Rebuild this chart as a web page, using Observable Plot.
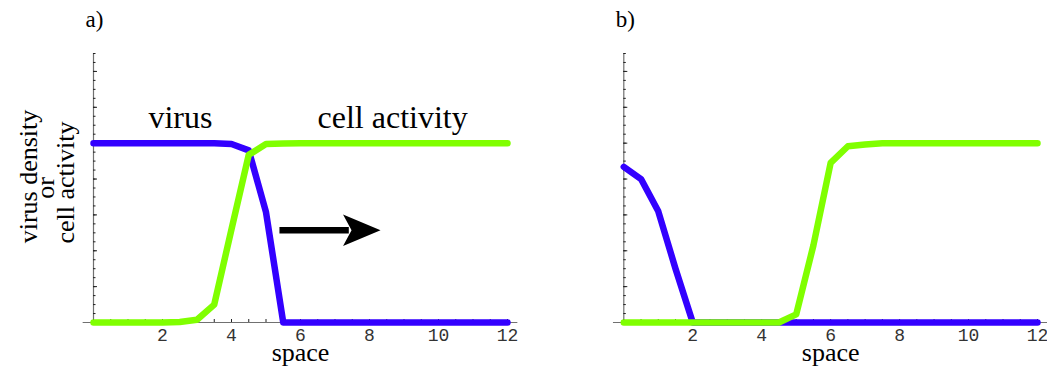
<!DOCTYPE html>
<html>
<head>
<meta charset="utf-8">
<script src="https://cdn.jsdelivr.net/npm/d3@7"></script>
<script src="https://cdn.jsdelivr.net/npm/@observablehq/plot@0.6"></script>
<style>
  html, body { margin: 0; padding: 0; background: #fff; }
  #wrap { position: relative; width: 1047px; height: 369px; overflow: hidden; }
  #wrap svg { position: absolute; top: 0; }
</style>
</head>
<body>
<div id="wrap"></div>
<script>
// ---- data ----
const space = [0,0.5,1,1.5,2,2.5,3,3.5,4,4.5,5,5.5,6,6.5,7,7.5,8,8.5,9,9.5,10,10.5,11,11.5,12];
const virusA = [1,1,1,1,1,1,1,1,0.995,0.96,0.615,0,0,0,0,0,0,0,0,0,0,0,0,0,0];
const cellA  = [0,0,0,0,0,0.003,0.015,0.1,0.52,0.935,0.995,0.998,1,1,1,1,1,1,1,1,1,1,1,1,1];
const virusB = [0.868,0.8,0.62,0.3,0,0,0,0,0,0,0,0,0,0,0,0,0,0,0,0,0,0,0,0,0];
const cellB  = [0,0,0,0,0,0,0,0,0,0,0.045,0.43,0.89,0.983,0.993,1,1,1,1,1,1,1,1,1,1];
const xTickLabels = [2,4,6,8,10,12];
const xMinorTicks = d3.range(0, 12.01, 0.5);
const yMinorTicks = d3.range(0.05, 1.501, 0.05);
const yMajorTicks = d3.range(0.2, 1.501, 0.2);
const panelLabels = ["a)", "b)"];
const xTitle = "space";
const yTitleLines = [
  {text: "virus density", y: 0.814, dx: -57},
  {text: "or", y: 0.75, dx: -40},
  {text: "cell activity", y: 0.78, dx: -20}
];
const curveLabels = [
  {text: "virus", x: 2.52, y: 1.082},
  {text: "cell activity", x: 8.67, y: 1.082}
];
const arrowShaft = [{x: 5.39, y: 0.514}, {x: 7.4, y: 0.514}];
const arrowTip = [{x: 8.32, y: 0.514}];

// ---- styles ----
const BLUE = "#3300ff", GREEN = "#80ff00", AXIS = "#707070";
const SERIF = "Liberation Serif, Times New Roman, serif";
const MONO = "Liberation Mono, Courier New, monospace";
const H = 369, MT = 53, MB = 47;
const pxPerY = (H - MT - MB) / 1.5;
const pxPerX = 414 / 12;

const arrowHead = {
  draw(ctx) {
    ctx.moveTo(0, 0);
    ctx.lineTo(-37.5, -15.7);
    ctx.lineTo(-29, 0);
    ctx.lineTo(-37.5, 15.7);
    ctx.closePath();
  }
};

function panel({label, virus, cell, width, marginLeft, marginRight, extra}) {
  const rows = (vals) => space.map((x, i) => ({x, y: vals[i]}));
  return Plot.plot({
    width, height: H, marginLeft, marginRight, marginTop: MT, marginBottom: MB,
    x: {domain: [0, 12], axis: null},
    y: {domain: [0, 1.5], axis: null},
    marks: [
      // axes
      Plot.ruleY([0], {x1: -0.3, x2: 12.3, stroke: AXIS, strokeWidth: 1.2}),
      Plot.ruleX([0], {y1: 0, y2: 1.5, stroke: AXIS, strokeWidth: 1.2}),
      Plot.ruleX(xMinorTicks, {x: d => d, y1: 0, y2: 3 / pxPerY, stroke: "#222", strokeWidth: 1}),
      Plot.ruleY(yMinorTicks, {y: d => d, x1: 0, x2: 2.5 / pxPerX, stroke: "#222", strokeWidth: 1}),
      Plot.ruleY(yMajorTicks, {y: d => d, x1: 0, x2: 4 / pxPerX, stroke: "#222", strokeWidth: 1}),
      Plot.text(xTickLabels, {x: d => d, y: 0, text: d => String(d), dy: 18, lineAnchor: "bottom",
        fontFamily: MONO, fontSize: 18, fill: "#333"}),
      Plot.text([xTitle], {x: 6, y: 0, text: d => d, dy: 38, lineAnchor: "bottom",
        fontFamily: SERIF, fontSize: 26, fill: "#000"}),
      Plot.text([label], {frameAnchor: "top-left", text: d => d, textAnchor: "start", lineAnchor: "bottom",
        dx: -8, dy: -27, fontFamily: SERIF, fontSize: 23, fill: "#000"}),
      // curves
      Plot.line(rows(virus), {x: "x", y: "y", stroke: BLUE, strokeWidth: 6.5, strokeLinecap: "round", strokeLinejoin: "round"}),
      Plot.line(rows(cell), {x: "x", y: "y", stroke: GREEN, strokeWidth: 6.5, strokeLinecap: "round", strokeLinejoin: "round"}),
      ...(extra || [])
    ]
  });
}

const extrasA = [
  ...yTitleLines.map(t => Plot.text([t], {x: 0, y: "y", text: "text", dx: t.dx, rotate: -90, lineAnchor: "bottom",
    fontFamily: SERIF, fontSize: 26, fill: "#000"})),
  Plot.text(curveLabels, {x: "x", y: "y", text: "text", lineAnchor: "bottom",
    fontFamily: SERIF, fontSize: 32, fill: "#000"}),
  Plot.line(arrowShaft, {x: "x", y: "y", stroke: "#000", strokeWidth: 6.5, strokeLinecap: "butt"}),
  Plot.dot(arrowTip, {x: "x", y: "y", r: 5, symbol: arrowHead, fill: "#000", stroke: "none"})
];

const svgA = panel({label: panelLabels[0], virus: virusA, cell: cellA, width: 523, marginLeft: 93, marginRight: 16, extra: extrasA});
const svgB = panel({label: panelLabels[1], virus: virusB, cell: cellB, width: 524, marginLeft: 100.3, marginRight: 10});
svgA.style.left = "0px";
svgB.style.left = "523px";
document.getElementById("wrap").append(svgA, svgB);
</script>
</body>
</html>
